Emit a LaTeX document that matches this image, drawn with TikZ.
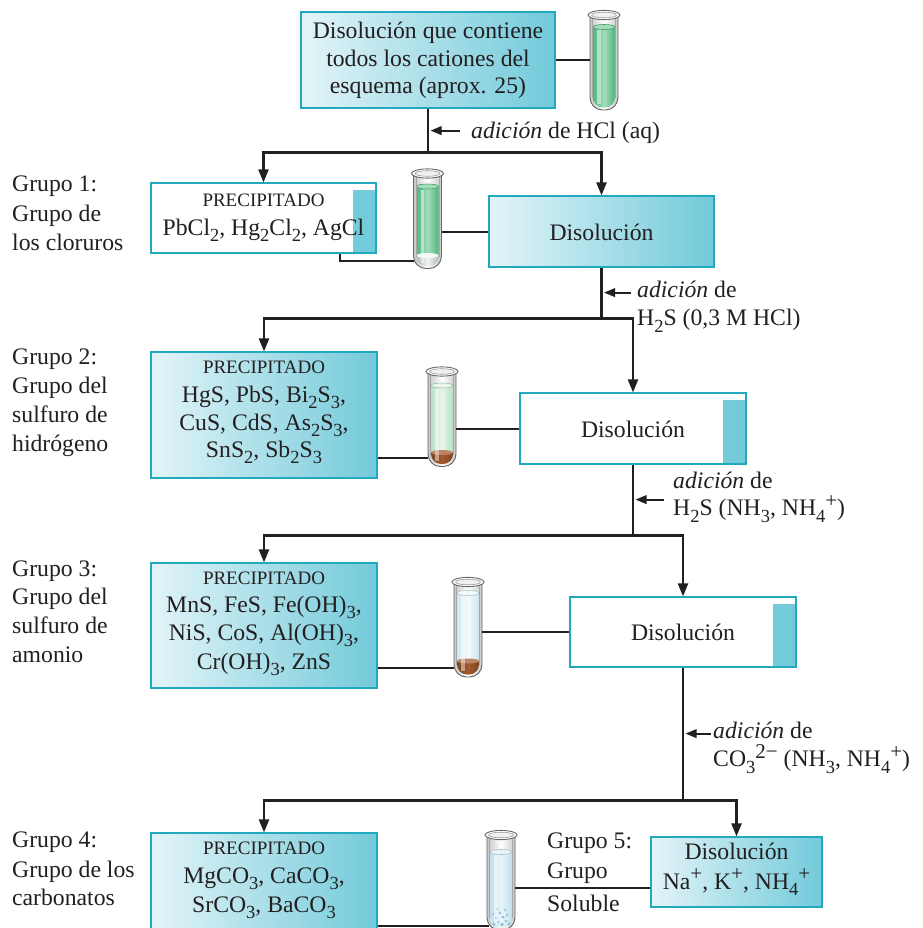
\documentclass[tikz,border=0pt]{standalone}
\usepackage{fontspec}
\setmainfont{Liberation Serif}
\usetikzlibrary{arrows.meta,calc}

\definecolor{ink}{HTML}{231F20}
\definecolor{boxedge}{HTML}{22A9BD}
\definecolor{boxlight}{HTML}{E3F4F8}
\definecolor{boxdark}{HTML}{72CADA}
\definecolor{stripl}{HTML}{8AD4E0}
\definecolor{stripd}{HTML}{72CAD9}
\definecolor{greenedge}{HTML}{4FB57D}
\definecolor{greenmid}{HTML}{A3DCBA}
\definecolor{palegreenedge}{HTML}{B6E0C4}
\definecolor{palegreenmid}{HTML}{E8F6EC}
\definecolor{paleblueedge}{HTML}{CDE5EE}
\definecolor{palebluemid}{HTML}{F3FAFC}
\definecolor{blueedge}{HTML}{BFE0EC}
\definecolor{bluemid}{HTML}{E9F5FA}
\definecolor{rust}{HTML}{A35A2C}
\definecolor{chalk}{HTML}{F2F7F3}
\definecolor{crystal}{HTML}{8CBFD8}

\newcommand\bodyfont{\fontsize{23.7}{28}\selectfont}
\newcommand\capfont{\fontsize{19}{22}\selectfont}
\newcommand\chsub[1]{\raisebox{-6.5pt}{\fontsize{18.5}{18.5}\selectfont #1}}
\newcommand\chsup[1]{\raisebox{8.5pt}{\fontsize{21}{21}\selectfont #1}}

% glass body and liquid of a test tube centred on a placeholder node
\newcommand\tubeglass[4]{%
  \begin{scope}[shift={(#1.center)}]
    \path[left color=black!22, right color=black!22, middle color=white,
          rounded corners=12.5pt]
      (-14,-45) -- (-14,50) -- (14,50) -- (14,-45);
    \path[left color=#2, right color=#2, middle color=#3, rounded corners=10pt]
      (-11,#4) -- (-11,47.5) -- (11,47.5) -- (11,#4);
    \fill[#3] (0,#4) ellipse[x radius=11, y radius=2.5];
    \draw[#2!85!black, line width=0.6pt] (0,#4) ellipse[x radius=11, y radius=2.5];
  \end{scope}}
% settled solid at the bottom of a tube
\newcommand\sediment[3]{%
  \begin{scope}[shift={(#1.center)}]
    \path[left color=#2!75!black, right color=#2!75!black, middle color=#2,
          rounded corners=10pt]
      (-11,#3) -- (-11,47.5) -- (11,47.5) -- (11,#3);
    \fill[#2!75!white] (0,#3) ellipse[x radius=11, y radius=2.5];
  \end{scope}}
% outline, highlight and rim of a tube
\newcommand\tuberim[2]{%
  \begin{scope}[shift={(#1.center)}]
    \fill[white, opacity=0.45] (-7,{#2+3}) rectangle (-3.5,44);
    \draw[black!35, line width=0.5pt] (-11.5,-42) -- (-11.5,38);
    \draw[black!35, line width=0.5pt] (11.5,-42) -- (11.5,38);
    \draw[black!60, line width=0.9pt, rounded corners=12.5pt]
      (-14,-45) -- (-14,50) -- (14,50) -- (14,-45);
    \draw[black!60, fill=white, line width=0.9pt] (0,-45) ellipse[x radius=16, y radius=4.6];
    \draw[black!40, fill=black!6, line width=0.6pt] (0,-45) ellipse[x radius=12.5, y radius=2.8];
  \end{scope}}
% loose crystals lying on the bottom of a tube
\newcommand\crystals[1]{%
  \begin{scope}[shift={(#1.center)}]
    \foreach \px/\py/\r in {-7/44/1.8,-3/42/1.5,1/44.5/1.9,5/41/1.4,8/44/1.7,
        -5/38/1.3,2/37/1.5,6/35/1.2,-8/34/1.2,-1/33/1.3,4/30/1.1,-4/29/1.1}
      \fill[crystal] (\px,\py) circle[radius=\r];
    \foreach \px/\py in {-6/40,0/40,3/34,-2/36,7/39}
      \fill[white] (\px,\py) circle[radius=0.9];
  \end{scope}}

\tikzset{
  txt/.style={font=\bodyfont, text=ink, inner sep=0pt, anchor=base},
  captxt/.style={font=\capfont, text=ink, inner sep=0pt, anchor=base},
  side/.style={txt, anchor=base west},
  shadedbox/.style={draw=boxedge, line width=1.2pt, left color=boxlight,
    right color=boxdark, inner sep=0pt},
  plainbox/.style={draw=boxedge, line width=1.2pt, fill=white, inner sep=0pt,
    path picture={\path[left color=stripl, right color=stripd]
      ($(path picture bounding box.north east)+(-23,7)$)
      rectangle (path picture bounding box.south east);}},
  tubespot/.style={minimum width=28pt, minimum height=100pt, inner sep=0pt},
  flow/.style={draw=ink, line width=2.3pt},
  flowarrow/.style={flow, -{Triangle[length=13pt,width=10pt]}},
  addarrow/.style={draw=ink, line width=2pt, {Triangle[length=11pt,width=8.5pt]}-},
  link/.style={draw=ink, line width=2pt},
}

\begin{document}
\begin{tikzpicture}[x=1pt,y=-1pt]
\useasboundingbox (0,0) rectangle (922,928);
\fill[white] (0,0) rectangle (922,928);

% boxes
\node[shadedbox, minimum width=254pt, minimum height=96pt] (top) at (428,60) {};
\node[plainbox, minimum width=225pt, minimum height=70pt] (g1) at (263.5,218) {};
\node[shadedbox, minimum width=225pt, minimum height=71pt] (d1) at (601.5,231.5) {};
\node[shadedbox, minimum width=226pt, minimum height=126pt] (g2) at (264,415) {};
\node[plainbox, minimum width=226pt, minimum height=71pt] (d2) at (633,428.5) {};
\node[shadedbox, minimum width=226pt, minimum height=125pt] (g3) at (264,625.5) {};
\node[plainbox, minimum width=226pt, minimum height=70pt] (d3) at (683,632) {};
\node[shadedbox, minimum width=226pt, minimum height=106pt] (g4) at (264,886) {};
\node[shadedbox, minimum width=171pt, minimum height=70pt] (d4) at (736.5,872) {};

% test tubes
\node[tubespot] (t0) at (604,60) {};
\node[tubespot] (t1) at (427.5,218.5) {};
\node[tubespot] (t2) at (442,416.5) {};
\node[tubespot] (t3) at (468,627) {};
\node[tubespot] (t4) at (501,880) {};

\tubeglass{t0}{greenedge}{greenmid}{-33}
\tuberim{t0}{-33}
\tubeglass{t1}{greenedge}{greenmid}{-32}
\sediment{t1}{chalk}{37}
\tuberim{t1}{-32}
\tubeglass{t2}{palegreenedge}{palegreenmid}{-31}
\sediment{t2}{rust}{36}
\tuberim{t2}{-31}
\tubeglass{t3}{paleblueedge}{palebluemid}{-34}
\sediment{t3}{rust}{34}
\tuberim{t3}{-34}
\tubeglass{t4}{blueedge}{bluemid}{-28}
\crystals{t4}
\tuberim{t4}{-28}

% box texts
\node[txt] (top1) at ($(top.north)+(0,27)$) {Disolución que contiene};
\node[txt] (top2) at ($(top.north)+(0,55)$) {todos los cationes del};
\node[txt] (top3) at ($(top.north)+(0,82)$) {esquema (aprox. 25)};

\node[captxt] (g1a) at ($(g1.north)+(0,24)$) {PRECIPITADO};
\node[txt] (g1b) at ($(g1.north)+(0,53)$) {PbCl\chsub{2}, Hg\chsub{2}Cl\chsub{2}, AgCl};

\node[txt] (d1t) at ($(d1.center)+(0,8.5)$) {Disolución};

\node[captxt] (g2a) at ($(g2.north)+(0,22)$) {PRECIPITADO};
\node[txt] (g2b) at ($(g2.north)+(0,51)$) {HgS, PbS, Bi\chsub{2}S\chsub{3},};
\node[txt] (g2c) at ($(g2.north)+(0,79)$) {CuS, CdS, As\chsub{2}S\chsub{3},};
\node[txt] (g2d) at ($(g2.north)+(0,106)$) {SnS\chsub{2}, Sb\chsub{2}S\chsub{3}};

\node[txt] (d2t) at ($(d2.center)+(0,8.5)$) {Disolución};

\node[captxt] (g3a) at ($(g3.north)+(0,22)$) {PRECIPITADO};
\node[txt] (g3b) at ($(g3.north)+(0,50)$) {MnS, FeS, Fe(OH)\chsub{3},};
\node[txt] (g3c) at ($(g3.north)+(0,78)$) {NiS, CoS, Al(OH)\chsub{3},};
\node[txt] (g3d) at ($(g3.north)+(0,107)$) {Cr(OH)\chsub{3}, ZnS};

\node[txt] (d3t) at ($(d3.center)+(0,8.5)$) {Disolución};

\node[captxt] (g4a) at ($(g4.north)+(0,22)$) {PRECIPITADO};
\node[txt] (g4b) at ($(g4.north)+(0,51)$) {MgCO\chsub{3}, CaCO\chsub{3},};
\node[txt] (g4c) at ($(g4.north)+(0,80)$) {SrCO\chsub{3}, BaCO\chsub{3}};

\node[txt] (d4a) at ($(d4.north)+(0,23)$) {Disolución};
\node[txt] (d4b) at ($(d4.north)+(0,53)$) {Na\chsup{+}, K\chsup{+}, NH\chsub{4}\chsup{+}};

% group labels
\node[side] (l1a) at (12,192) {Grupo 1:};
\node[side] (l1b) at (12,221) {Grupo de};
\node[side] (l1c) at (12,250) {los cloruros};
\node[side] (l2a) at (12,364) {Grupo 2:};
\node[side] (l2b) at (12,393) {Grupo del};
\node[side] (l2c) at (12,422) {sulfuro de};
\node[side] (l2d) at (12,451) {hidrógeno};
\node[side] (l3a) at (12,576) {Grupo 3:};
\node[side] (l3b) at (12,604) {Grupo del};
\node[side] (l3c) at (12,633) {sulfuro de};
\node[side] (l3d) at (12,662) {amonio};
\node[side] (l4a) at (12,847) {Grupo 4:};
\node[side] (l4b) at (12,877) {Grupo de los};
\node[side] (l4c) at (12,905) {carbonatos};
\node[side] (l5a) at (547,848) {Grupo 5:};
\node[side] (l5b) at (547,878) {Grupo};
\node[side] (l5c) at (547,911) {Soluble};

% links from boxes to tubes
\draw[link] (top.east) -- (t0.west);
\draw[link] ($(g1.south east)+(-37,0)$) |- ($(t1.west)+(0.5,42.5)$);
\draw[link] (t1.east |- d1.west) -- (d1.west);
\coordinate (c2) at ($(g2.south east)+(0,-21)$);
\draw[link] (c2) -- (c2 -| t2.west);
\draw[link] (t2.east |- d2.west) -- (d2.west);
\coordinate (c3) at ($(g3.south east)+(0,-21)$);
\draw[link] (c3) -- (c3 -| t3.west);
\draw[link] (t3.east |- d3.west) -- (d3.west);
\coordinate (c4) at ($(g4.south east)+(0,-14)$);
\draw[link] (c4) -- ($(c4 -| t4.west)+(2,0)$);
\coordinate (c5) at ($(t4.east)+(0,8)$);
\draw[link] (c5) -- (c5 -| d4.west);

% separation scheme
\draw[flow] (top.south) -- ++(0,44) coordinate (s1);
\draw[flowarrow] (s1) -| (g1.north);
\draw[flowarrow] (s1) -| (d1.north);
\draw[flow] (d1.south) -- ++(0,51) coordinate (s2);
\draw[flowarrow] (s2) -| (g2.north);
\draw[flowarrow] (s2) -| (d2.north);
\draw[flow] (d2.south) -- ++(0,71) coordinate (s3);
\draw[flowarrow] (s3) -| (g3.north);
\draw[flowarrow] (s3) -| (d3.north);
\draw[flow] (d3.south) -- ++(0,133) coordinate (s4);
\draw[flowarrow] (s4) -| (g4.north);
\draw[flowarrow] (s4) -| (d4.north);

% reagent additions
\coordinate (a1) at ($(top.south)+(0,22)$);
\draw[addarrow] ($(a1)+(2.5,0)$) -- ++(29,0);
\node[side] (r1) at ($(a1)+(43,8)$) {\textit{adición} de HCl (aq)};

\coordinate (a2) at ($(d1.south)+(0,25)$);
\draw[addarrow] ($(a2)+(2.5,0)$) -- ++(27,0);
\node[side] (r2a) at ($(a2)+(35.5,5)$) {\textit{adición} de};
\node[side] (r2b) at ($(a2)+(35.5,33)$) {H\chsub{2}S (0,3 M HCl)};

\coordinate (a3) at ($(d2.south)+(0,35)$);
\draw[addarrow] ($(a3)+(2.5,0)$) -- ++(28,0);
\node[side] (r3a) at ($(a3)+(40,-11)$) {\textit{adición} de};
\node[side] (r3b) at ($(a3)+(40,16)$) {H\chsub{2}S (NH\chsub{3}, NH\chsub{4}\chsup{+})};

\coordinate (a4) at ($(d3.south)+(0,66)$);
\draw[addarrow] ($(a4)+(2.5,0)$) -- ++(25,0);
\node[side] (r4a) at ($(a4)+(30,5)$) {\textit{adición} de};
\node[side] (r4b) at ($(a4)+(30,33)$) {CO\chsub{3}\chsup{2−} (NH\chsub{3}, NH\chsub{4}\chsup{+})};
\end{tikzpicture}
\end{document}
